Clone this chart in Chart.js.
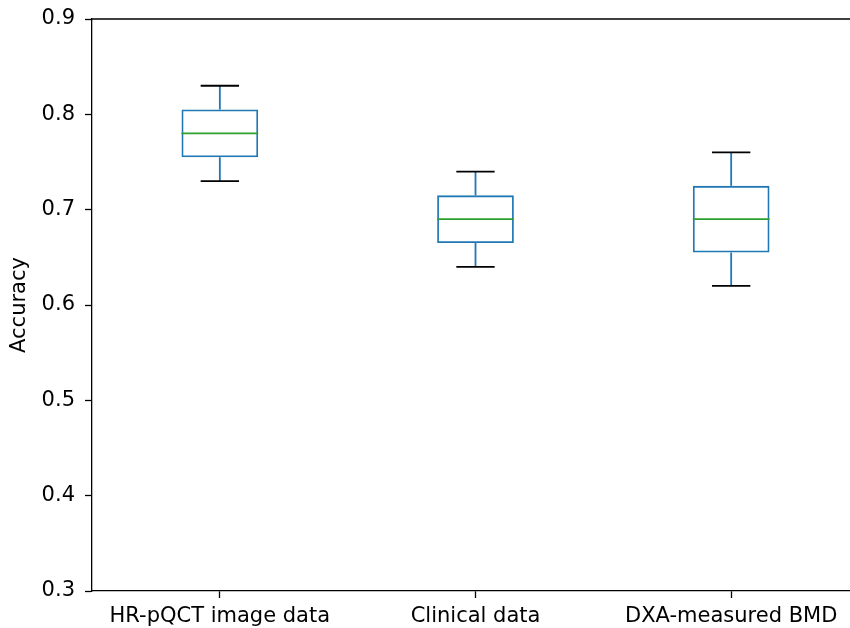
<!DOCTYPE html>
<html>
<head>
<meta charset="utf-8">
<script src="https://cdn.jsdelivr.net/npm/chart.js@4"></script>
<style>
  html, body { margin: 0; padding: 0; overflow: hidden; background: #fff; width: 850px; height: 628px; }
  #wrap { width: 850px; height: 628px; overflow: hidden; position: relative; }
  #box-chart { position: absolute; left: 0; top: 0; }
</style>
</head>
<body>
<div id="wrap"><canvas id="box-chart" width="870" height="628"></canvas></div>
<script>
// Box plot values
labels = ['HR-pQCT image data', 'Clinical data', 'DXA-measured BMD'];
q1 = [0.755, 0.665, 0.655];
q3 = [0.805, 0.715, 0.725];
medians = [0.78, 0.69, 0.69];
whiskerLow = [0.73, 0.64, 0.62];
whiskerHigh = [0.83, 0.74, 0.76];
yTicks = [0.3, 0.4, 0.5, 0.6, 0.7, 0.8, 0.9];

// Boxes are floating bars [q1, q3]
boxData = labels.map((l, i) => [q1[i], q3[i]]);

// Plugin for whiskers, caps, medians and the top spine
boxExtras = {
    id: 'boxExtras',
    afterDatasetsDraw(chart) {
        let ctx = chart.ctx;
        let x = chart.scales.x;
        let y = chart.scales.y;
        let area = chart.chartArea;
        let catWidth = (area.right - area.left) / labels.length;
        let boxHalf = catWidth * 0.3 / 2;
        let capHalf = boxHalf / 2;

        function line(x1, y1, x2, y2, color) {
            ctx.beginPath();
            ctx.strokeStyle = color;
            ctx.lineWidth = 1.8;
            ctx.moveTo(x1, y1);
            ctx.lineTo(x2, y2);
            ctx.stroke();
        }

        ctx.save();
        labels.forEach((l, i) => {
            let cx = x.getPixelForValue(i);
            // whiskers
            line(cx, y.getPixelForValue(q3[i]), cx, y.getPixelForValue(whiskerHigh[i]), '#1f77b4');
            line(cx, y.getPixelForValue(q1[i]), cx, y.getPixelForValue(whiskerLow[i]), '#1f77b4');
            // caps
            line(cx - capHalf, y.getPixelForValue(whiskerHigh[i]), cx + capHalf, y.getPixelForValue(whiskerHigh[i]), '#000000');
            line(cx - capHalf, y.getPixelForValue(whiskerLow[i]), cx + capHalf, y.getPixelForValue(whiskerLow[i]), '#000000');
            // median
            line(cx - boxHalf, y.getPixelForValue(medians[i]), cx + boxHalf, y.getPixelForValue(medians[i]), '#2ca02c');
        });
        // top spine
        ctx.beginPath();
        ctx.strokeStyle = '#000000';
        ctx.lineWidth = 1.3;
        ctx.moveTo(area.left, area.top);
        ctx.lineTo(chart.width, area.top);
        ctx.stroke();
        ctx.restore();
    }
};

let ctx = document.getElementById('box-chart');

boxChart = new Chart(ctx, {
    type: 'bar',
    data: {
        labels: labels,
        datasets: [{
            label: 'Accuracy',
            data: boxData,
            borderColor: '#1f77b4',
            backgroundColor: 'rgba(0,0,0,0)',
            borderWidth: 1.8,
            borderSkipped: false,
            barPercentage: 0.3,
            categoryPercentage: 1.0
        }]
    },
    plugins: [boxExtras],
    options: {
        responsive: false,
        animation: false,
        layout: {
            padding: { top: 19, right: 11, left: 0, bottom: 0 }
        },
        plugins: {
            legend: { display: false },
            tooltip: { enabled: false }
        },
        scales: {
            x: {
                offset: true,
                afterFit: function (scale) {
                    scale.height = 37;
                    scale.paddingLeft = 0;
                    scale.paddingRight = 0;
                },
                grid: {
                    offset: false,
                    drawOnChartArea: false,
                    drawTicks: true,
                    tickLength: 7,
                    tickWidth: 1.3,
                    color: '#000000'
                },
                border: { display: true, color: '#000000', width: 1.3 },
                ticks: {
                    color: '#000000',
                    padding: 6,
                    maxRotation: 0,
                    font: { family: 'DejaVu Sans', size: 21 }
                }
            },
            y: {
                min: 0.3,
                max: 0.9,
                afterFit: function (scale) {
                    scale.width = 92;
                    scale.paddingTop = 0;
                    scale.paddingBottom = 0;
                },
                afterBuildTicks: function (scale) {
                    scale.ticks = yTicks.map(v => ({ value: v }));
                },
                title: {
                    display: true,
                    text: 'Accuracy',
                    color: '#000000',
                    padding: { top: 7, bottom: 0 },
                    font: { family: 'DejaVu Sans', size: 21 }
                },
                grid: {
                    drawOnChartArea: false,
                    drawTicks: true,
                    tickLength: 7,
                    tickWidth: 1.3,
                    color: '#000000'
                },
                border: { display: true, color: '#000000', width: 1.3 },
                ticks: {
                    color: '#000000',
                    padding: 10,
                    font: { family: 'DejaVu Sans', size: 21 },
                    callback: function (value) { return value.toFixed(1); }
                }
            }
        }
    }
});
</script>
</body>
</html>
